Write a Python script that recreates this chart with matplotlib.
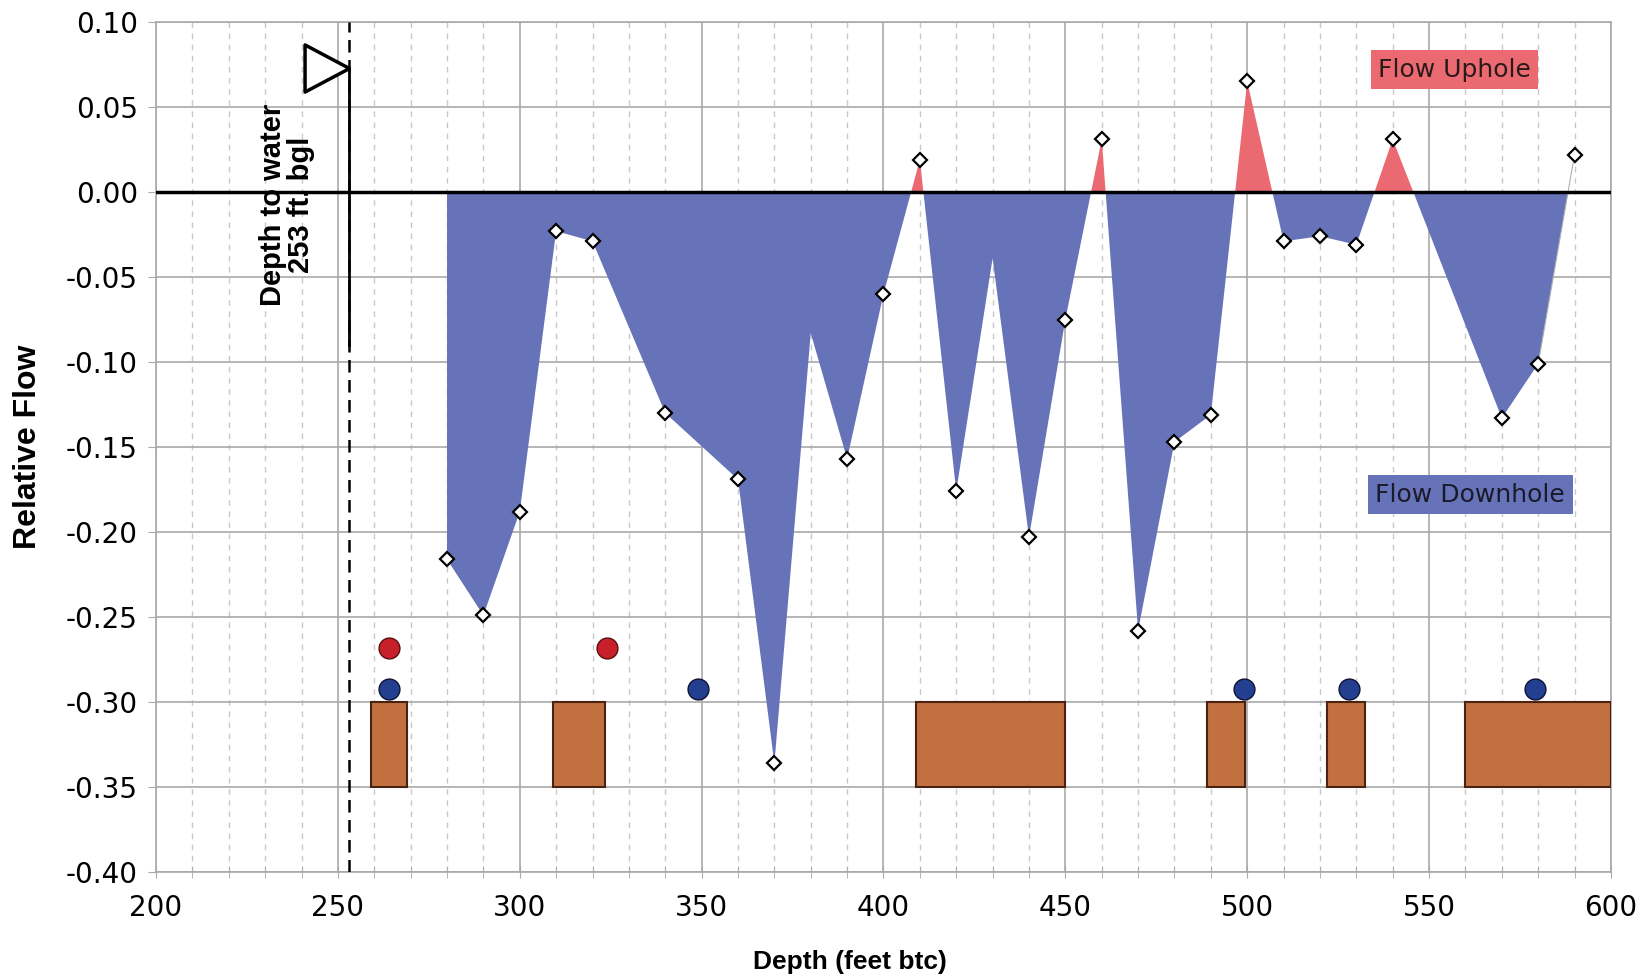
import numpy as np
import matplotlib.pyplot as plt
from matplotlib.ticker import MultipleLocator, FormatStrFormatter

# Relative flow log (negative = downhole, positive = uphole)
depth = [280, 290, 300, 310, 320, 340, 360, 370, 380, 390, 400, 410, 420, 430,
         440, 450, 460, 470, 480, 490, 500, 510, 520, 530, 540, 570, 580, 590]
flow = [-0.216, -0.249, -0.188, -0.023, -0.029, -0.130, -0.169, -0.336, -0.083,
        -0.157, -0.060, 0.019, -0.176, -0.039, -0.203, -0.075, 0.031, -0.258,
        -0.147, -0.131, 0.065, -0.029, -0.026, -0.031, 0.031, -0.133, -0.101, 0.022]
# points drawn in the fill but without a diamond marker
no_marker = [380, 430]
# last point is only a marker, not part of the filled area
fill_end = 580

# fracture / feature markers
red_dot_depth = [264, 324]
red_dot_flow = [-0.268, -0.268]
blue_dot_depth = [264, 349, 499, 528, 579]
blue_dot_flow = [-0.292, -0.292, -0.292, -0.292, -0.292]

# screened intervals (top, bottom depth)
screen_top = [259, 309, 409, 489, 522, 560]
screen_bottom = [269, 323.5, 450, 499.5, 532.5, 600]

water_depth = 253

# colors
blue_fill = '#6673b9'
red_fill = '#eb6a72'
brown = '#c2703f'

fig = plt.figure(figsize=(16.46, 9.8), dpi=100)
ax = fig.add_axes([0.0948, 0.1100, 0.8839, 0.8676])

x = np.array(depth)
y = np.array(flow)

# grid
ax.set_xlim(200, 600)
ax.set_ylim(-0.40, 0.10)
ax.xaxis.set_major_locator(MultipleLocator(50))
ax.xaxis.set_minor_locator(MultipleLocator(10))
ax.yaxis.set_major_locator(MultipleLocator(0.05))
ax.yaxis.set_major_formatter(FormatStrFormatter('%.2f'))
ax.grid(which='major', axis='both', color='#a9a9a9', lw=1.2, zorder=0)
ax.grid(which='minor', axis='x', color='#c8c8c8', lw=1.0, ls=(0, (4, 4)), zorder=0)
ax.set_axisbelow(True)
for s in ax.spines.values():
    s.set_color('#a9a9a9')
    s.set_linewidth(1.2)

# flow areas
ax.fill_between(x, y, 0, where=y <= 0, interpolate=True, color=blue_fill, lw=0, zorder=2)
ax.fill_between(x, y, 0, where=(y >= 0) & (x < fill_end), interpolate=True,
                color=red_fill, lw=0, zorder=2)
ax.plot(x[-2:], y[-2:], color='#b0b0b0', lw=0.8, zorder=2)
ax.axhline(0, color='black', lw=2.5, zorder=3)

mask = ~np.isin(x, no_marker)
ax.plot(x[mask], y[mask], ls='none', marker='D', ms=7.5, mfc='white', mec='black',
        mew=1.6, zorder=5)

# screened intervals
widths = np.array(screen_bottom) - np.array(screen_top)
ax.bar(screen_top, [0.05] * len(screen_top), width=widths, bottom=-0.35, align='edge',
       color=brown, edgecolor='#4a2212', lw=1.5, zorder=4)

ax.plot(red_dot_depth, red_dot_flow, ls='none', marker='o', ms=15, mfc='#c8202a',
        mec='#5a1010', mew=1, zorder=6)
ax.plot(blue_dot_depth, blue_dot_flow, ls='none', marker='o', ms=15, mfc='#223f90',
        mec='#111133', mew=1, zorder=6)

# depth to water
ax.axvline(water_depth, color='black', lw=1.8, ls=(0, (5, 3)), zorder=4)
ax.plot([water_depth, water_depth], [0.073, -0.09], color='black', lw=2, zorder=4)
tri = [(0, 0), (-1, 0.53), (-1, -0.53), (0, 0)]
ax.plot([water_depth], [0.073], ls='none', marker=tri, ms=64, mfc='white', mec='black',
        mew=2.5, zorder=5)
ax.text(236, -0.0074, 'Depth to water\n253 ft. bgl', rotation=90, ha='center', va='center',
        fontsize=21, fontweight='bold', family='Liberation Sans', linespacing=1.0, zorder=6)

# flow direction labels
ax.text(557, 0.072, 'Flow Uphole', ha='center', va='center', fontsize=18, color='#2a1a1a',
        bbox=dict(boxstyle='square,pad=0.3', fc=red_fill, ec='none'), zorder=6)
ax.text(561.3, -0.178, 'Flow Downhole', ha='center', va='center', fontsize=18, color='#1a1a2a',
        bbox=dict(boxstyle='square,pad=0.3', fc=blue_fill, ec='none'), zorder=6)

# ticks and labels
ax.tick_params(axis='y', which='major', length=6, color='#a9a9a9', labelsize=20, pad=7)
ax.tick_params(axis='x', which='both', direction='inout', length=8, color='#a9a9a9')
ax.tick_params(axis='x', which='major', labelsize=20, pad=12)
ax.set_xlabel('Depth (feet btc)', fontsize=19, fontweight='bold', family='Liberation Sans')
ax.set_ylabel('Relative Flow', fontsize=23, fontweight='bold', family='Liberation Sans')
ax.xaxis.set_label_coords(0.477, -0.092)
ax.yaxis.set_label_coords(-0.078, 0.5)

fig.savefig('out.png', dpi=100)
